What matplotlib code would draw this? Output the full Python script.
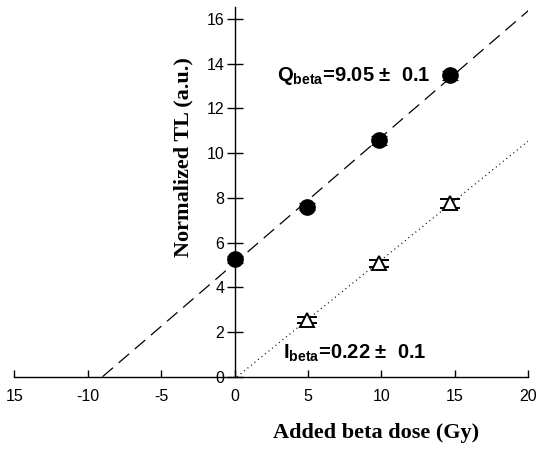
import numpy as np
import matplotlib
matplotlib.use("Agg")
import matplotlib.pyplot as plt

# data
dose_nat = [0.0, 4.9, 9.8, 14.7]          # natural + added dose (filled circles)
tl_nat = [5.25, 7.6, 10.58, 13.48]
err_nat = [0.15, 0.15, 0.2, 0.2]

dose_reg = [4.9, 9.8, 14.7]               # regenerated (open triangles)
tl_reg = [2.54, 5.07, 7.75]
err_reg = [0.15, 0.15, 0.2]

q_text = "Q$_{\\mathbf{beta}}$=9.05 \u00b1  0.1"
i_text = "I$_{\\mathbf{beta}}$=0.22 \u00b1  0.1"
x_ticks = [-15, -10, -5, 0, 5, 10, 15, 20]
x_ticklabels = ["15", "-10", "-5", "0", "5", "10", "15", "20"]
y_ticks = [0, 2, 4, 6, 8, 10, 12, 14, 16]

plt.rcParams["font.family"] = ["Liberation Sans", "DejaVu Sans"]
plt.rcParams["mathtext.fontset"] = "custom"
plt.rcParams["mathtext.rm"] = "Liberation Sans:bold"
plt.rcParams["mathtext.bf"] = "Liberation Sans:bold"

fig = plt.figure(figsize=(5.38, 4.53), dpi=100)
ax = fig.add_axes([14.3 / 538, 1 - 376.7 / 453, 514 / 538, 370 / 453])
ax.set_xlim(-15, 20)
ax.set_ylim(0, 16.55)

# fitted lines, drawn from their x-intercept to the right edge
p1 = np.polyfit(dose_nat, tl_nat, 1)
p2 = np.polyfit(dose_reg, tl_reg, 1)
for p, ls in [(p1, (0, (11, 6))), (p2, (0, (0.8, 2.8)))]:
    x0 = -p[1] / p[0]
    xs = np.array([x0, 20])
    ax.plot(xs, np.polyval(p, xs), color="black", lw=0.9, ls=ls, zorder=2)

ax.errorbar(dose_nat, tl_nat, yerr=err_nat, fmt="o", color="black",
            ms=11, capsize=6, elinewidth=0.8, capthick=0.8, zorder=3)
ax.errorbar(dose_reg, tl_reg, yerr=err_reg, fmt="^", color="black",
            mfc="white", mec="black", mew=1.4, ms=10,
            capsize=7, elinewidth=0.8, capthick=1.2, zorder=3)

ax.text(2.9, 13.45, q_text, fontsize=14.5, fontweight="bold",
        ha="left", va="center")
ax.text(3.3, 1.05, i_text, fontsize=14.5, fontweight="bold",
        ha="left", va="center")

# axes through the origin
ax.spines["left"].set_position(("data", 0))
ax.spines["bottom"].set_position(("data", 0))
ax.spines["top"].set_visible(False)
ax.spines["right"].set_visible(False)
for s in ["left", "bottom"]:
    ax.spines[s].set_linewidth(1.0)

ax.set_xticks(x_ticks)
ax.set_xticklabels(x_ticklabels)
ax.set_yticks(y_ticks)
ax.tick_params(axis="x", direction="in", length=5, width=1,
               pad=9, labelsize=11.5)
ax.tick_params(axis="y", direction="inout", length=11, width=1,
               pad=2, labelsize=11.5)

ax.set_xlabel("Added beta dose (Gy)", fontsize=16, fontweight="bold",
              family=["Liberation Serif", "DejaVu Serif"])
ax.set_ylabel("Normalized TL (a.u.)", fontsize=16, fontweight="bold",
              family=["Liberation Serif", "DejaVu Serif"])
ax.xaxis.label.set_va("center")
ax.yaxis.label.set_va("center")
ax.xaxis.set_label_coords((376 - 14.3) / 514, (376.7 - 433) / 370)
ax.yaxis.set_label_coords((183 - 14.3) / 514, (376.7 - 157) / 370)

fig.savefig("out.png", dpi=100)
